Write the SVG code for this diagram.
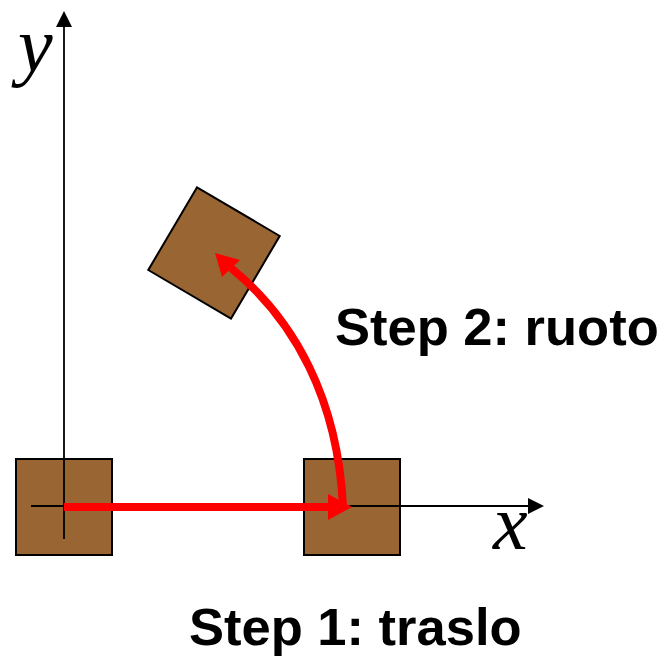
<svg xmlns="http://www.w3.org/2000/svg" width="665" height="656" viewBox="0 0 665 656">
<style>
.box{fill:#996633;stroke:#000;stroke-width:2}
.axis{stroke:#000;stroke-width:1.8;fill:none}
.red{stroke:#ff0000;stroke-width:8;fill:none}
.lbl{font-family:"Liberation Sans",Arial,sans-serif;font-weight:bold;font-size:52.5px;fill:#000}
.var{font-family:"Liberation Serif","Times New Roman",serif;font-style:italic;font-size:78px;fill:#000}
</style>
<rect width="665" height="656" fill="#fff"/>
<g id="square-start"><rect class="box" x="16" y="459" width="96" height="96"/></g>
<g id="square-translated"><rect class="box" x="304" y="459" width="96" height="96"/></g>
<g id="square-rotated"><rect class="box" x="166" y="205" width="96" height="96" transform="rotate(30.5 214 253)"/></g>
<g id="axes">
<line class="axis" x1="64" y1="539" x2="64" y2="26"/>
<polygon points="64,11 56,27 72,27" fill="#000"/>
<line class="axis" x1="31" y1="506" x2="529" y2="506"/>
<polygon points="544,506 528,498 528,514" fill="#000"/>
<text class="var" x="18" y="71">y</text>
<text class="var" x="493" y="549">x</text>
</g>
<g id="connectors">
<line class="red" x1="64" y1="507" x2="332" y2="507"/>
<polygon points="352,507 328,494 328,520" fill="#ff0000"/>
<path class="red" d="M343,507 C338,400 295,320 231,268" stroke-width="7"/>
<polygon points="215,253 240,260 222,277" fill="#ff0000"/>
</g>
<g id="labels">
<text class="lbl" x="335" y="345">Step 2: ruoto</text>
<text class="lbl" x="189" y="645">Step 1: traslo</text>
</g>
</svg>
